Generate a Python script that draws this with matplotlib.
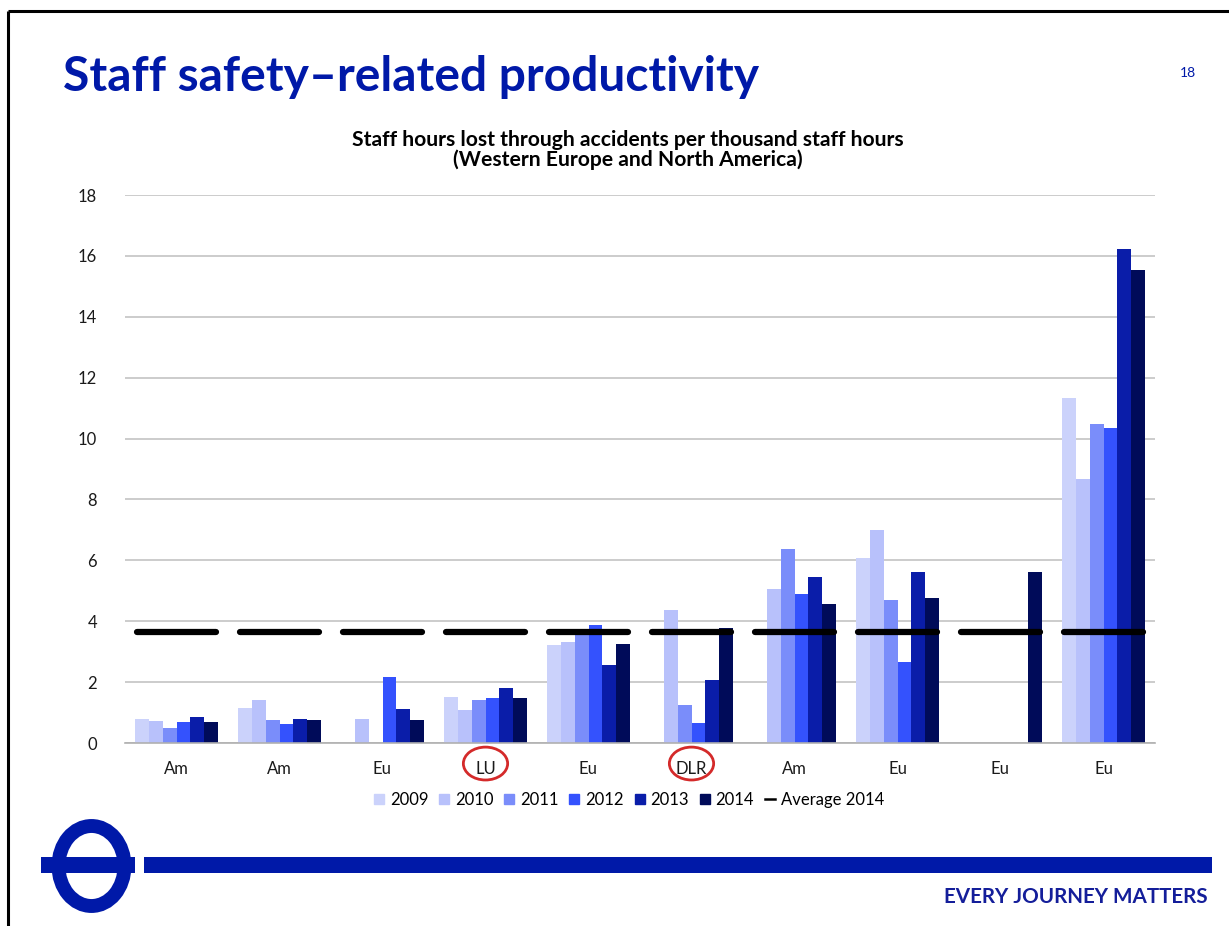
import numpy as np
import matplotlib
matplotlib.use("Agg")
import matplotlib.pyplot as plt
from matplotlib.patches import Ellipse, Rectangle
from matplotlib.lines import Line2D
import matplotlib.transforms as mtransforms

# ---------------- data ----------------
categories = ["Am", "Am", "Eu", "LU", "Eu", "DLR", "Am", "Eu", "Eu", "Eu"]
years = ["2009", "2010", "2011", "2012", "2013", "2014"]
nan = np.nan
v2009 = [0.79, 1.14, nan, 1.51, 3.23, nan, nan, 6.09, nan, 11.32]
v2010 = [0.72, 1.42, 0.79, 1.07, 3.32, 4.36, 5.07, 6.98, nan, 8.66]
v2011 = [0.48, 0.74, nan, 1.40, 3.54, 1.26, 6.36, 4.69, nan, 10.47]
v2012 = [0.68, 0.64, 2.16, 1.49, 3.87, 0.67, 4.88, 2.66, nan, 10.36]
v2013 = [0.84, 0.80, 1.12, 1.82, 2.55, 2.06, 5.45, 5.61, nan, 16.21]
v2014 = [0.70, 0.74, 0.74, 1.49, 3.26, 3.78, 4.55, 4.75, 5.62, 15.54]
average_2014 = 3.65
highlighted = ["LU", "DLR"]
y_ticks = [0, 2, 4, 6, 8, 10, 12, 14, 16, 18]

series = [v2009, v2010, v2011, v2012, v2013, v2014]
colors = ["#CBD2FB", "#B8C1FB", "#7A8DFA", "#3452FD", "#0A1DA9", "#000B59"]

TFL_BLUE = "#0019A8"
FONT = ["Lato", "DejaVu Sans"]
plt.rcParams["font.family"] = FONT

W, H = 1229, 926
fig = plt.figure(figsize=(W / 100, H / 100), dpi=100)
fig.patch.set_facecolor("white")

# main axes (pixel layout: x 125..1155, y 195..743)
ax = fig.add_axes([125 / W, 1 - 743 / H, 1030 / W, 548 / H])
n = len(categories)
x = np.arange(n)
bw = 0.8 / len(years)
for i, (vals, c, yr) in enumerate(zip(series, colors, years)):
    ax.bar(x + (i - 2.5) * bw, np.array(vals, dtype=float), width=bw,
           color=c, label=yr, zorder=2, linewidth=0)

ax.hlines([average_2014] * n, x - 0.385, x + 0.385, colors="black",
          linewidth=4.5, zorder=3, capstyle="round")

ax.set_xlim(-0.5, n - 0.5)
ax.set_ylim(0, 18)
ax.set_yticks(y_ticks)
ax.set_yticklabels([str(t) for t in y_ticks], fontsize=12, color="#1a1a1a")
ax.set_xticks(x)
ax.set_xticklabels(categories, fontsize=12, color="#1a1a1a")
ax.tick_params(axis="both", length=0)
ax.tick_params(axis="y", pad=20)
ax.tick_params(axis="x", pad=13)
ax.grid(axis="y", color="#C4C4C4", linewidth=1.2, zorder=0)
ax.set_axisbelow(True)
for s in ["top", "right", "left"]:
    ax.spines[s].set_visible(False)
ax.spines["bottom"].set_color("#B0B0B0")
ax.spines["bottom"].set_linewidth(1.2)

# red ellipses around highlighted categories
blend = mtransforms.blended_transform_factory(ax.transData, ax.transAxes)
for i, cat in enumerate(categories):
    if cat in highlighted:
        e = Ellipse((i, -0.0375), width=0.43, height=0.060, transform=blend,
                    fill=False, edgecolor="#D42A2A", linewidth=2.0, clip_on=False)
        ax.add_patch(e)

# legend
handles = [Line2D([0], [0], marker="s", linestyle="none", markersize=7,
                  markerfacecolor=c, markeredgecolor=c) for c in colors]
handles.append(Line2D([0], [0], color="black", linewidth=1.8))
labels = years + ["Average 2014"]
leg = fig.legend(handles, labels, loc="center", bbox_to_anchor=(629 / W, 1 - 800 / H),
                 ncol=7, frameon=False, fontsize=12, handlelength=0.6,
                 handletextpad=0.35, columnspacing=0.65)

# overlay axes in pixel coordinates for slide decoration
ov = fig.add_axes([0, 0, 1, 1], zorder=-1)
ov.set_xlim(0, W)
ov.set_ylim(H, 0)
ov.axis("off")

# frame
ov.plot([8, 8], [H + 5, 11], color="black", linewidth=2.2, solid_capstyle="butt")
ov.plot([8, W + 5], [11, 11], color="black", linewidth=2.2, solid_capstyle="butt")

renderer = fig.canvas.get_renderer()


def fit_text(xp, yp, s, target_w, size, **kw):
    t = ov.text(xp, yp, s, fontsize=size, **kw)
    bb = t.get_window_extent(renderer=renderer)
    new = size * target_w / bb.width
    t.set_fontsize(new)
    return t, new


fit_text(63, 91, "Staff safety\u2013related productivity", 695, 30,
         color=TFL_BLUE, fontweight="bold", ha="left", va="baseline")
ov.text(1188, 73, "18", fontsize=10, color=TFL_BLUE, ha="center", va="center")

_, sub_size = fit_text(628, 140, "Staff hours lost through accidents per thousand staff hours",
                       550, 12, color="black", fontweight="bold", ha="center", va="center")
ov.text(628, 160, "(Western Europe and North America)", fontsize=sub_size,
        color="black", fontweight="bold", ha="center", va="center")

# better arrow
GREEN = "#12A84A"
ov.annotate("", xy=(150, 283), xytext=(150, 200), xycoords="data",
            arrowprops=dict(arrowstyle="-|>,head_width=0.45,head_length=0.6",
                            color=GREEN, lw=3.2, shrinkA=0, shrinkB=0))
ov.text(160, 270, "Better", fontsize=10.5, color=GREEN, fontweight="semibold",
        ha="left", va="center")

# footer: roundel and bar
ov.add_patch(Rectangle((144, 857), 1212 - 144, 16, color=TFL_BLUE, linewidth=0))
ov.add_patch(Ellipse((91.5, 866), 66, 80, fill=False, edgecolor=TFL_BLUE, linewidth=10))
ov.add_patch(Rectangle((41, 857), 135 - 41, 16, color=TFL_BLUE, linewidth=0))
fit_text(1208, 897, "EVERY JOURNEY MATTERS", 265, 12, color="#141E9A",
         fontweight="bold", ha="right", va="center")

fig.savefig("out.png", dpi=100, facecolor="white")
